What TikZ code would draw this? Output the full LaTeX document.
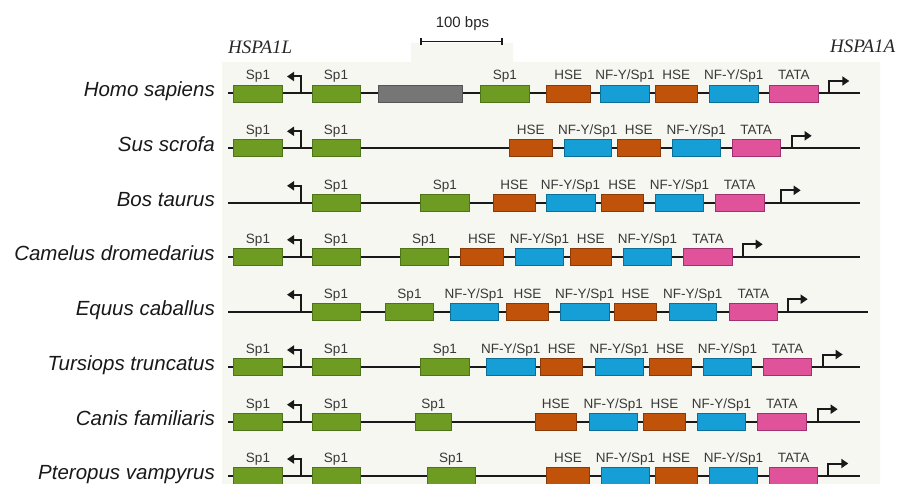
\documentclass[tikz,border=0pt]{standalone}
\usepackage{fontspec}
\setmainfont{Liberation Sans}
\newfontfamily\tmsfont{Liberation Serif}
\usetikzlibrary{arrows.meta}
\definecolor{panelbg}{HTML}{F7F7F2}
\definecolor{spg}{HTML}{6E9B22}
\definecolor{spgd}{HTML}{4F7318}
\definecolor{gryf}{HTML}{767676}
\definecolor{gryd}{HTML}{555555}
\definecolor{hsef}{HTML}{C0520A}
\definecolor{hsed}{HTML}{8A3A08}
\definecolor{nfyf}{HTML}{169FD6}
\definecolor{nfyd}{HTML}{0B6F9A}
\definecolor{tataf}{HTML}{E0529A}
\definecolor{tatad}{HTML}{A03070}
\definecolor{labc}{HTML}{383838}
\tikzset{
  gbox/.style={draw, minimum height=17pt, inner sep=0pt, line width=0.7pt},
  spbox/.style={gbox, fill=spg, draw=spgd},
  graybox/.style={gbox, fill=gryf, draw=gryd},
  hsebox/.style={gbox, fill=hsef, draw=hsed},
  nfybox/.style={gbox, fill=nfyf, draw=nfyd},
  tatabox/.style={gbox, fill=tataf, draw=tatad},
  lab/.style={anchor=base, inner sep=0pt, text=labc, font=\fontsize{13.5}{15}\selectfont},
  species/.style={anchor=base east, inner sep=0pt, text=black!90, font=\fontsize{20.5}{24}\selectfont\itshape},
  gene/.style={anchor=base west, inner sep=0pt, text=black!85, font=\tmsfont\fontsize{19}{22}\selectfont\itshape},
  backbone/.style={line width=2pt, black!90},
  tss/.style={line width=2pt, black!90, -{Triangle[length=7pt,width=9pt]}},
}
\newcommand{\gb}[6]{%
  \node[#2, minimum width={#4-#3}] (#1) at ({(#3+#4)/2},#5) {};
  \node[lab] (#1t) at ({(#3+#4)/2},{#5-13.5}) {#6};}
\newcommand{\gbn}[5]{%
  \node[#2, minimum width={#4-#3}] (#1) at ({(#3+#4)/2},#5) {};}
\newcommand{\rowline}[4]{%
  \coordinate (#1s) at (228,#2);
  \coordinate (#1e) at (#3,#2);
  \draw[backbone] (#1s) -- (#1e);
  \node[species] (#1n) at (215,{#2+3.4}) {#4};}
\newcommand{\ltss}[2]{%
  \coordinate (#1lp) at (300.5,#2);
  \coordinate (#1lt) at (287,{#2-17});
  \draw[tss] (#1lp) |- (#1lt);}
\newcommand{\rtss}[3]{%
  \coordinate (#1rp) at (#2,#3);
  \coordinate (#1rt) at ({#2+20},{#3-12.5});
  \draw[tss] (#1rp) |- (#1rt);}
\begin{document}
\begin{tikzpicture}[x=1pt,y=-1pt]
\useasboundingbox (0,0) rectangle (897,484);
\fill[panelbg] (222,62) -- (411,62) -- (411,43) -- (513,43) -- (513,62) -- (880,62) -- (880,484) -- (222,484) -- cycle;
% scale bar
\coordinate (sb1) at (420,41.7);
\coordinate (sb2) at (502.7,41.7);
\draw[line width=1.6pt, black!90, {Bar[width=7pt]}-{Bar[width=7pt]}] (sb1) -- (sb2);
\node[anchor=base, inner sep=0pt, text=black!85, font=\fontsize{15}{18}\selectfont] (sbt) at (462.5,27.3) {100 bps};
\node[gene] (g1) at (228,53.3) {HSPA1L};
\node[gene] (g2) at (830,52.7) {HSPA1A};
% Row 1 Homo sapiens
\rowline{ra}{93.5}{860}{Homo sapiens}
\ltss{ra}{93.5}
\rtss{ra}{829.3}{93.5}
\gb{ra1}{spbox}{233.3}{282.7}{93.5}{Sp1}
\gb{ra2}{spbox}{312}{360}{93.5}{Sp1}
\gbn{ra3}{graybox}{378}{462.7}{93.5}
\gb{ra4}{spbox}{480.7}{529}{93.5}{Sp1}
\gb{ra5}{hsebox}{546.5}{590}{93.5}{HSE}
\gb{ra6}{nfybox}{600.7}{649.3}{93.5}{NF-Y/Sp1}
\gb{ra7}{hsebox}{655}{697.7}{93.5}{HSE}
\gb{ra8}{nfybox}{709.3}{758.3}{93.5}{NF-Y/Sp1}
\gb{ra9}{tatabox}{769.3}{818.3}{93.5}{TATA}
% Row 2 Sus scrofa
\rowline{rb}{148.3}{860}{Sus scrofa}
\ltss{rb}{148.3}
\rtss{rb}{791.7}{148.3}
\gb{rb1}{spbox}{233.3}{282.7}{148.3}{Sp1}
\gb{rb2}{spbox}{312}{360}{148.3}{Sp1}
\gb{rb3}{hsebox}{509.3}{552.3}{148.3}{HSE}
\gb{rb4}{nfybox}{564}{611.7}{148.3}{NF-Y/Sp1}
\gb{rb5}{hsebox}{617.7}{660}{148.3}{HSE}
\gb{rb6}{nfybox}{672.3}{720}{148.3}{NF-Y/Sp1}
\gb{rb7}{tatabox}{732.3}{780}{148.3}{TATA}
% Row 3 Bos taurus
\rowline{rc}{202.8}{860}{Bos taurus}
\ltss{rc}{202.8}
\rtss{rc}{780.7}{202.8}
\gb{rc1}{spbox}{312}{360}{202.8}{Sp1}
\gb{rc2}{spbox}{420.7}{469}{202.8}{Sp1}
\gb{rc3}{hsebox}{493.3}{535}{202.8}{HSE}
\gb{rc4}{nfybox}{546}{595}{202.8}{NF-Y/Sp1}
\gb{rc5}{hsebox}{601}{643.3}{202.8}{HSE}
\gb{rc6}{nfybox}{655.7}{703.3}{202.8}{NF-Y/Sp1}
\gb{rc7}{tatabox}{715}{764}{202.8}{TATA}
% Row 4 Camelus dromedarius
\rowline{rd}{256.8}{860}{Camelus dromedarius}
\ltss{rd}{256.8}
\rtss{rd}{742.7}{256.8}
\gb{rd1}{spbox}{233.3}{282.7}{256.8}{Sp1}
\gb{rd2}{spbox}{312}{360}{256.8}{Sp1}
\gb{rd3}{spbox}{400}{448.3}{256.8}{Sp1}
\gb{rd4}{hsebox}{460.7}{503.3}{256.8}{HSE}
\gb{rd5}{nfybox}{515.7}{563.3}{256.8}{NF-Y/Sp1}
\gb{rd6}{hsebox}{570}{611.7}{256.8}{HSE}
\gb{rd7}{nfybox}{623.3}{671.7}{256.8}{NF-Y/Sp1}
\gb{rd8}{tatabox}{683.3}{732.7}{256.8}{TATA}
% Row 5 Equus caballus
\rowline{re}{311.7}{867.7}{Equus caballus}
\ltss{re}{311.7}
\rtss{re}{787.7}{311.7}
\gb{re1}{spbox}{312}{360}{311.7}{Sp1}
\gb{re2}{spbox}{385.7}{433.3}{311.7}{Sp1}
\gb{re3}{nfybox}{450}{498.3}{311.7}{NF-Y/Sp1}
\gb{re4}{hsebox}{506.7}{548.3}{311.7}{HSE}
\gb{re5}{nfybox}{560.7}{609}{311.7}{NF-Y/Sp1}
\gb{re6}{hsebox}{614.3}{656.7}{311.7}{HSE}
\gb{re7}{nfybox}{669}{716.7}{311.7}{NF-Y/Sp1}
\gb{re8}{tatabox}{729}{777.7}{311.7}{TATA}
% Row 6 Tursiops truncatus
\rowline{rf}{367}{860}{Tursiops truncatus}
\ltss{rf}{367}
\rtss{rf}{822.7}{367}
\gb{rf1}{spbox}{233.3}{282.7}{367}{Sp1}
\gb{rf2}{spbox}{312}{360}{367}{Sp1}
\gb{rf3}{spbox}{420.7}{469}{367}{Sp1}
\gb{rf4}{nfybox}{486.7}{535}{367}{NF-Y/Sp1}
\gb{rf5}{hsebox}{540.7}{582.7}{367}{HSE}
\gb{rf6}{nfybox}{595}{643.3}{367}{NF-Y/Sp1}
\gb{rf7}{hsebox}{649}{691.7}{367}{HSE}
\gb{rf8}{nfybox}{703.3}{751.7}{367}{NF-Y/Sp1}
\gb{rf9}{tatabox}{763.3}{811.7}{367}{TATA}
% Row 7 Canis familiaris
\rowline{rg}{421.7}{860}{Canis familiaris}
\ltss{rg}{421.7}
\rtss{rg}{817.7}{421.7}
\gb{rg1}{spbox}{233.3}{282.7}{421.7}{Sp1}
\gb{rg2}{spbox}{312}{360}{421.7}{Sp1}
\gb{rg3}{spbox}{415}{451.7}{421.7}{Sp1}
\gb{rg4}{hsebox}{535}{576.7}{421.7}{HSE}
\gb{rg5}{nfybox}{589.3}{637.3}{421.7}{NF-Y/Sp1}
\gb{rg6}{hsebox}{643.3}{685.7}{421.7}{HSE}
\gb{rg7}{nfybox}{697.3}{745.7}{421.7}{NF-Y/Sp1}
\gb{rg8}{tatabox}{757.7}{806}{421.7}{TATA}
% Row 8 Pteropus vampyrus
\rowline{rh}{476}{860}{Pteropus vampyrus}
\ltss{rh}{476}
\rtss{rh}{828.3}{476}
\gb{rh1}{spbox}{233.3}{282.7}{476}{Sp1}
\gb{rh2}{spbox}{312}{360}{476}{Sp1}
\gb{rh3}{spbox}{427.3}{475}{476}{Sp1}
\gb{rh4}{hsebox}{546.7}{589.3}{476}{HSE}
\gb{rh5}{nfybox}{601.7}{649.3}{476}{NF-Y/Sp1}
\gb{rh6}{hsebox}{655}{697.3}{476}{HSE}
\gb{rh7}{nfybox}{709.3}{757.7}{476}{NF-Y/Sp1}
\gb{rh8}{tatabox}{769.3}{817.7}{476}{TATA}
\end{tikzpicture}
\end{document}
